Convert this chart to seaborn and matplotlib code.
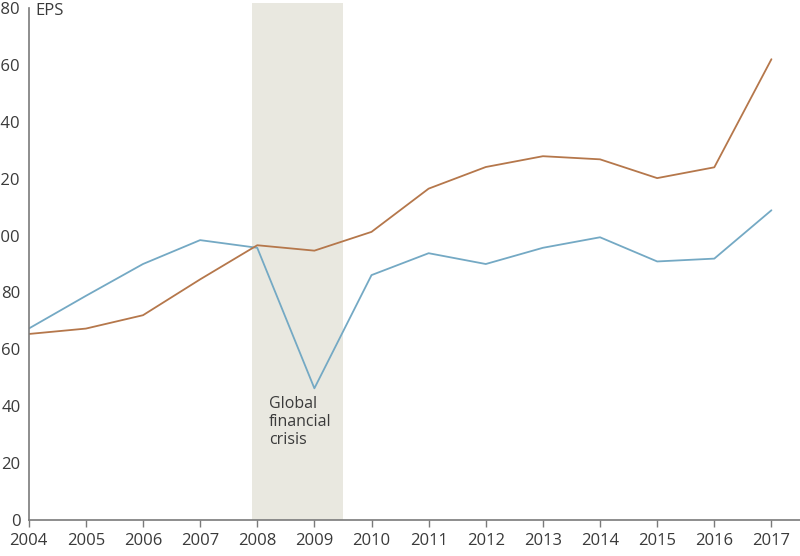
"""EPS over time with the global financial crisis shaded."""

import matplotlib.pyplot as plt
import pandas as pd
import seaborn as sns

years = list(range(2004, 2018))
eps_blue = [67.3, 78.8, 90.0, 98.4, 95.7, 46.3, 86.1, 93.8, 90.0, 95.7, 99.4, 90.9, 91.9, 108.9]
eps_orange = [65.4, 67.3, 72.0, 84.6, 96.6, 94.7, 101.3, 116.5, 124.1, 127.9, 126.8, 120.2, 124.0, 162.0]
y_ticks = [0, 20, 40, 60, 80, 100, 120, 140, 160, 180]
crisis_span = (2007.9, 2009.5)
crisis_label = "Global\nfinancial\ncrisis"

frame = pd.DataFrame({
    "year": years * 2,
    "eps": eps_blue + eps_orange,
    "series": ["blue"] * len(years) + ["orange"] * len(years),
})

sns.set_style("white")
plt.rcParams["font.family"] = ["Open Sans", "DejaVu Sans"]

text_color = "#3a3a3a"
axis_color = "#7a7a7a"

fig = plt.figure(figsize=(8, 5.56), dpi=100)
ax = fig.add_axes([0.0359, 0.0647, 0.9641, 0.9209])

# band runs a touch above the top of the axis, as in the original
ax.axvspan(*crisis_span, ymin=0, ymax=1.01, color="#e9e8e0", lw=0, zorder=0, clip_on=False)

sns.lineplot(
    data=frame,
    x="year",
    y="eps",
    hue="series",
    palette={"blue": "#74a9c4", "orange": "#b5774b"},
    linewidth=1.3,
    legend=False,
    ax=ax,
)

ax.set_xlim(2004, 2017.5)
ax.set_ylim(0, 180)
ax.set_xticks(years)
ax.set_yticks(y_ticks)
ax.set_xlabel("")
ax.set_ylabel("")

for side in ("top", "right"):
    ax.spines[side].set_visible(False)
for side in ("left", "bottom"):
    ax.spines[side].set_color(axis_color)
    ax.spines[side].set_linewidth(1.2)

ax.tick_params(axis="x", direction="out", length=5, width=1.0, color=axis_color,
               labelsize=12, labelcolor=text_color, pad=4, bottom=True)
ax.tick_params(axis="y", length=0, labelsize=12, labelcolor=text_color, pad=6, left=False)

ax.text(0.008, 0.994, "EPS", transform=ax.transAxes, fontsize=12,
        color=text_color, va="center", ha="left")
ax.text(2008.2, 43.5, crisis_label, fontsize=11.5, color=text_color,
        va="top", ha="left", linespacing=1.15)

fig.savefig("out.png", dpi=100)
plt.close(fig)
